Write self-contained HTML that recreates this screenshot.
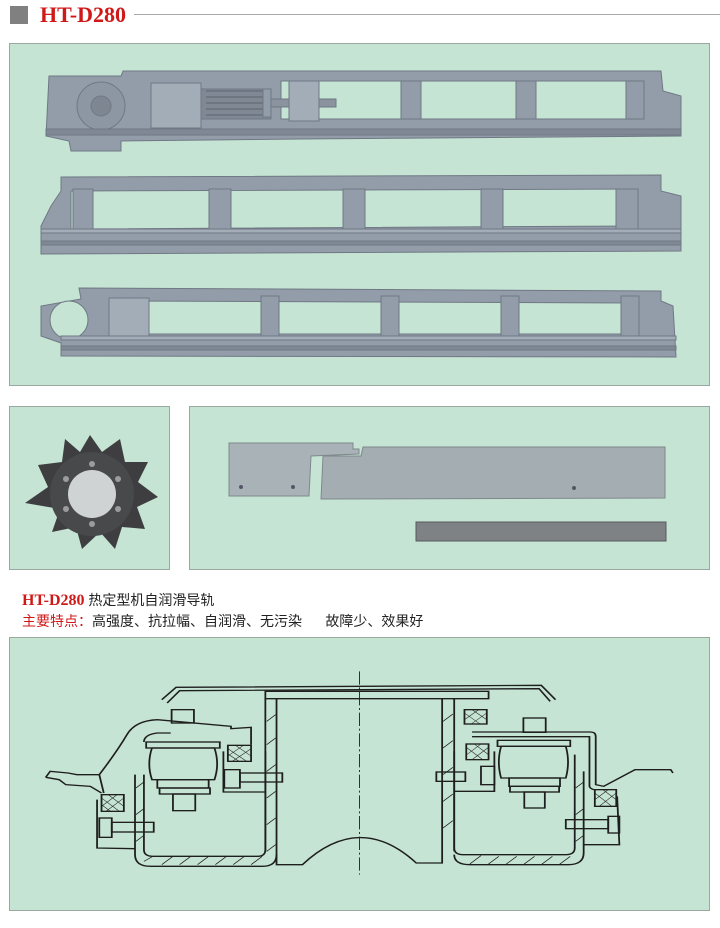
<!DOCTYPE html>
<html><head><meta charset="utf-8"><style>
body{margin:0;background:#fff;width:720px;height:928px;position:relative;overflow:hidden;font-family:"Liberation Sans","Noto Sans CJK SC",sans-serif}
.p{position:absolute;background:#c6e4d3;border:1px solid #9aa8a0;box-sizing:border-box}
.t{position:absolute;white-space:nowrap}
</style></head><body>
<div style="position:absolute;left:10px;top:6px;width:18px;height:18px;background:#808080"></div>
<div class="t" style="left:40px;top:2px;font:bold 22px 'Liberation Serif',serif;color:#d01818">HT-D280</div>
<div style="position:absolute;left:134px;top:14px;width:586px;height:1px;background:#aaa"></div>

<div class="p" style="left:9px;top:43px;width:701px;height:343px">
<svg width="701" height="343" viewBox="9 43 701 343" style="position:absolute;left:0;top:0">
 <g fill="#939daa" stroke="#6f7884" stroke-width="1">
  <path d="M48 75 L120 75 L122 70 L660 70 L662 90 L680 95 L680 135 L300 138 L120 140 L120 150 L70 150 L68 140 L45 135 Z"/>
  <path d="M280 80 L640 80 L640 118 L280 118 Z" fill="#c6e4d3"/>
  <rect x="400" y="80" width="20" height="38"/><rect x="515" y="80" width="20" height="38"/><rect x="625" y="80" width="18" height="38"/>
  <rect x="150" y="82" width="50" height="45" fill="#a3adb8"/>
  <rect x="200" y="88" width="70" height="30" fill="#7f8893"/>
  <path d="M205 90 h60 M205 96 h60 M205 102 h60 M205 108 h60 M205 114 h60" stroke="#5d6570"/>
  <rect x="262" y="88" width="8" height="28"/>
  <rect x="270" y="98" width="65" height="8" fill="#8a939e"/>
  <rect x="288" y="80" width="30" height="40" fill="#a3adb8"/>
  <circle cx="100" cy="105" r="24" fill="#8d97a3"/><circle cx="100" cy="105" r="10" fill="#7d8691"/>
  <rect x="45" y="128" width="635" height="6" fill="#7f8893"/>
  <path d="M60 176 L660 174 L660 190 L680 195 L680 250 L40 253 L40 225 L50 205 L60 190 Z"/>
  <path d="M70 190 L635 188 L635 225 L70 228 Z" fill="#c6e4d3"/>
  <rect x="72" y="188" width="20" height="42"/><rect x="208" y="188" width="22" height="42"/><rect x="342" y="188" width="22" height="42"/><rect x="480" y="188" width="22" height="42"/><rect x="615" y="188" width="22" height="42"/>
  <rect x="40" y="228" width="640" height="4" fill="#a3adb8"/>
  <rect x="40" y="240" width="640" height="4" fill="#7f8893"/>
  <path d="M78 287 L660 290 L660 300 L672 305 L675 356 L60 355 L60 342 L40 335 L40 305 L80 298 Z"/>
  <path d="M130 300 L628 302 L628 333 L130 333 Z" fill="#c6e4d3"/>
  <rect x="108" y="297" width="40" height="40" fill="#a3adb8"/>
  <rect x="260" y="295" width="18" height="40"/><rect x="380" y="295" width="18" height="40"/><rect x="500" y="295" width="18" height="40"/><rect x="620" y="295" width="18" height="40"/>
  <circle cx="68" cy="319" r="19" fill="#c6e4d3"/>
  <rect x="60" y="335" width="615" height="4" fill="#a3adb8"/>
  <rect x="60" y="345" width="615" height="4" fill="#7f8893"/>
 </g>
</svg></div>

<div class="p" style="left:9px;top:406px;width:161px;height:164px">
<svg width="161" height="164" style="position:absolute;left:0;top:0">
 <polygon points="80,28 92,45 110,32 115,55 138,55 128,75 148,90 127,100 135,122 112,120 105,142 90,125 72,142 66,120 42,125 50,102 15,96 38,80 28,58 52,55 55,32 70,45" fill="#3e3e40"/>
 <circle cx="82" cy="87" r="42" fill="#48494b"/>
 <circle cx="82" cy="87" r="24" fill="#cfd3d4"/>
 <g fill="#9a9c9e"><circle cx="82" cy="57" r="3"/><circle cx="108" cy="72" r="3"/><circle cx="108" cy="102" r="3"/><circle cx="82" cy="117" r="3"/><circle cx="56" cy="102" r="3"/><circle cx="56" cy="72" r="3"/></g>
</svg></div>

<div class="p" style="left:189px;top:406px;width:521px;height:164px">
<svg width="521" height="164" viewBox="189 406 521 164" style="position:absolute;left:0;top:0">
 <path d="M228 442 L352 442 L352 448 L358 448 L358 453 L310 455 L308 495 L228 495 Z" fill="#a9b2b6" stroke="#7f888c"/>
 <path d="M322 455 L360 455 L362 446 L664 446 L664 497 L320 498 Z" fill="#a4adb1" stroke="#7f888c"/>
 <circle cx="240" cy="486" r="2" fill="#556"/><circle cx="292" cy="486" r="2" fill="#556"/><circle cx="573" cy="487" r="2" fill="#556"/>
 <rect x="415" y="521" width="250" height="19" fill="#7e8285" stroke="#55595c"/>
</svg></div>

<div class="t" style="left:22px;top:590px;font-size:14px;color:#222"><b style="font-family:'Liberation Serif',serif;color:#d01818;font-size:16px">HT-D280</b> 热定型机自润滑导轨</div>
<div class="t" style="left:22px;top:611px;font-size:14px;color:#222"><span style="color:#d01818">主要特点：</span>高强度、抗拉幅、自润滑、无污染&nbsp;&nbsp;&nbsp;&nbsp;&nbsp;&nbsp;故障少、效果好</div>

<div class="p" style="left:9px;top:637px;width:701px;height:274px">
<svg width="700" height="270" viewBox="0 0 1568 810" preserveAspectRatio="none" style="position:absolute;left:0;top:0" fill="none" stroke="#1e1e1e" stroke-width="4">
 <path d="M340 185 L372 148 L1190 142 L1222 185 M352 195 L380 158 L1185 152 L1210 190"/>
 <path d="M783 100 L783 710" stroke-dasharray="40 8 6 8" stroke-width="2"/>
 <path d="M572 160 L1072 160 L1072 182 L572 182 Z"/>
 <path d="M572 182 L572 640 M597 182 L597 680 L655 680 Q783 520 910 675 L968 675 L968 182 M995 182 L995 640"/>
 <path d="M280 410 L280 650 Q280 685 315 685 L565 685 Q597 685 597 650 M300 410 L300 635 Q300 655 320 655 L555 655 Q572 655 572 635 L572 340"/>
 <path d="M995 650 Q995 680 1030 680 L1250 680 Q1285 680 1285 645 L1285 400 M995 340 L995 630 Q995 650 1015 650 L1245 650 Q1265 650 1265 630 L1265 350"/>
 <g stroke-width="2"><path d="M300 670 l20 -15 M340 680 l25 -25 M380 680 l25 -25 M420 680 l25 -25 M460 680 l25 -25 M500 680 l25 -25 M540 680 l25 -25 M1030 678 l25 -25 M1070 680 l25 -25 M1110 680 l25 -25 M1150 680 l25 -25 M1190 680 l25 -25 M1230 680 l25 -25 M575 250 l20 -20 M575 320 l20 -20 M575 400 l20 -20 M575 480 l20 -20 M575 560 l20 -20 M575 640 l20 -20 M970 250 l22 -22 M970 330 l22 -22 M970 410 l22 -22 M970 490 l22 -22 M970 570 l22 -22 M282 450 l18 -18 M282 530 l18 -18 M282 610 l18 -18 M1267 450 l18 -18 M1267 530 l18 -18 M1267 610 l18 -18"/></g>
 <rect x="305" y="312" width="165" height="18"/><path d="M318 330 L458 330 Q470 378 458 425 L318 425 Q306 378 318 330 Z"/>
 <rect x="330" y="425" width="115" height="25"/><rect x="335" y="450" width="113" height="18"/><rect x="365" y="468" width="50" height="50"/><rect x="362" y="215" width="50" height="40"/>
 <rect x="1092" y="307" width="163" height="18"/><path d="M1100 325 L1245 325 Q1255 372 1245 420 L1100 420 Q1090 372 1100 325 Z"/>
 <rect x="1118" y="420" width="114" height="25"/><rect x="1120" y="445" width="110" height="17"/><rect x="1152" y="462" width="46" height="48"/><rect x="1150" y="240" width="50" height="43"/>
 <path d="M80 418 L90 400 L130 405 L150 410 L200 410 Q240 340 262 290 Q280 248 330 245 L495 265 L495 272 L540 268 L540 320 M300 312 Q300 290 330 285 L360 285 M200 410 L210 465 M80 418 L110 425 L125 440 L180 445 L205 465"/>
 <path d="M1035 282 L1300 282 Q1312 282 1312 295 L1312 440 L1330 445 L1400 395 L1480 395 L1485 405 M1035 296 L1298 296 L1298 445 Q1300 455 1320 458"/>
 <g fill="#c6e4d3"><rect x="488" y="322" width="52" height="48"/><rect x="205" y="470" width="50" height="50"/><rect x="1018" y="215" width="50" height="43"/><rect x="1022" y="318" width="50" height="47"/><rect x="1310" y="455" width="48" height="50"/></g>
 <g stroke-width="1.5"><path d="M488 332 l42 38 M488 348 l25 22 M505 322 l35 32 M540 332 l-42 38 M523 322 l-35 32 M205 480 l40 40 M220 470 l35 35 M205 500 l20 20 M255 480 l-40 40 M240 470 l-35 35 M1018 225 l35 33 M1035 215 l33 30 M1068 225 l-35 33 M1050 215 l-32 30 M1022 328 l37 37 M1040 318 l32 32 M1072 328 l-37 37 M1055 318 l-33 33 M1310 465 l38 40 M1328 455 l30 30 M1358 465 l-38 40 M1340 455 l-30 30"/></g>
 <rect x="480" y="395" width="35" height="55"/><rect x="515" y="405" width="95" height="27"/>
 <rect x="955" y="402" width="65" height="28"/><rect x="1055" y="385" width="30" height="55"/>
 <rect x="200" y="540" width="28" height="58"/><rect x="228" y="553" width="94" height="29"/>
 <rect x="1245" y="545" width="95" height="27"/><rect x="1340" y="535" width="25" height="50"/>
 <path d="M478 340 L478 462 L572 462 M1085 340 L1085 460 L995 460 M195 485 L195 630 L280 632 M1360 475 L1365 620 L1285 620"/>
</svg></div>
</body></html>
